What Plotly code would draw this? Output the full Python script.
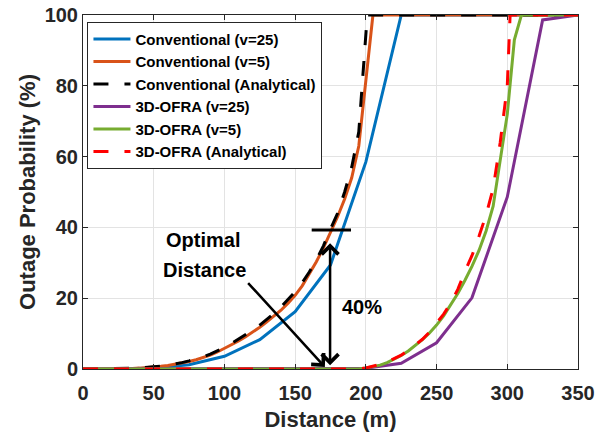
import plotly.graph_objects as go

# ---------------- data ----------------
d_step25 = [0, 25, 50, 75, 100, 125, 150, 175, 200, 225, 250, 275, 300, 325, 350]
conv_v25 = [0, 0, 0.3, 1.2, 3.6, 8.3, 16.2, 29.4, 58.5, 100, 100, 100, 100, 100, 100]
ofra_v25 = [0, 0, 0, 0, 0, 0, 0, 0, 0.2, 1.6, 7.4, 20.1, 48.6, 98.6, 100]

d_conv_v5 = [0, 20, 25, 30, 35, 40, 45, 50, 55, 60, 65, 70, 75, 80, 85, 90, 95, 100,
             105, 110, 115, 120, 125, 130, 135, 140, 145, 150, 155, 160, 165, 170,
             175, 180, 185, 190, 195, 200, 205, 350]
conv_v5 = [0, 0, 0.05, 0.1, 0.15, 0.25, 0.35, 0.5, 0.75, 1.0, 1.3, 1.65, 2.1, 2.6, 3.2,
           3.9, 4.8, 5.8, 6.8, 7.9, 9.1, 10.4, 11.8, 13.3, 14.9, 16.6, 18.6, 20.8, 23.5,
           26.8, 30.3, 34.2, 38.5, 43.0, 48.0, 54.0, 63.0, 82.0, 100, 100]

d_conv_an = [0, 20, 25, 30, 35, 40, 45, 50, 55, 60, 65, 70, 75, 80, 85, 90, 95, 100,
             105, 110, 115, 120, 125, 130, 135, 140, 145, 150, 155, 160, 165, 170,
             175, 180, 185, 190, 195, 200, 201, 350]
conv_an = [0, 0, 0.05, 0.1, 0.2, 0.3, 0.4, 0.55, 0.8, 1.1, 1.4, 1.8, 2.3, 2.8, 3.4,
           4.2, 5.1, 6.1, 7.2, 8.4, 9.7, 11.0, 12.4, 14.0, 15.7, 17.5, 19.5, 21.8, 24.4,
           27.4, 30.8, 34.8, 39.5, 44.0, 50.0, 57.0, 67.0, 94.0, 100, 100]

d_ofra_v5 = [0, 195, 200, 205, 210, 215, 220, 225, 230, 235, 240, 245, 250, 255, 260,
             265, 270, 275, 280, 285, 290, 295, 300, 305, 310, 350]
ofra_v5 = [0, 0, 0.3, 0.6, 1.1, 1.8, 2.8, 3.8, 5.1, 6.6, 8.3, 10.2, 12.4, 15.0, 18.0,
           21.3, 25.0, 29.0, 33.5, 39.0, 46.0, 58.5, 72.0, 93.0, 100, 100]

d_ofra_an = [0, 195, 200, 205, 210, 215, 220, 225, 230, 235, 240, 245, 250, 255, 260,
             265, 270, 275, 280, 285, 290, 295, 300, 302, 350]
ofra_an = [0, 0, 0.3, 0.7, 1.3, 2.0, 3.0, 3.9, 5.3, 6.9, 8.4, 10.4, 12.8, 15.5, 18.6,
           22.5, 27.5, 32.0, 37.5, 43.5, 51.0, 64.0, 80.0, 100, 100]

names = ["Conventional (v=25)", "Conventional (v=5)", "Conventional (Analytical)",
         "3D-OFRA (v=25)", "3D-OFRA (v=5)", "3D-OFRA (Analytical)"]
x_ticks = [0, 50, 100, 150, 200, 250, 300, 350]
y_ticks = [0, 20, 40, 60, 80, 100]

# annotation anchors (data units)
opt_arrow_tail = (115.8, 24.7)
opt_arrow_head = (171.0, 0.6)
dbl_arrow_x = 174.7
dbl_arrow_y = (0.65, 35.5)
bar_x = (161.7, 189.5)
bar_y = 39.3

# ---------------- figure ----------------
FONT = "Liberation Sans, Arial, sans-serif"
series = [
    (d_step25, conv_v25, "#0072BD", None),
    (d_conv_v5, conv_v5, "#D95319", None),
    (d_conv_an, conv_an, "#000000", "15px,16px"),
    (d_step25, ofra_v25, "#7E2F8E", None),
    (d_ofra_v5, ofra_v5, "#77AC30", None),
    (d_ofra_an, ofra_an, "#FF0000", "15px,16px"),
]

fig = go.Figure()
for (xs, ys, col, dash), nm in zip(series, names):
    fig.add_trace(go.Scatter(
        x=xs, y=ys, mode="lines", name=nm,
        line=dict(color=col, width=3, dash=dash or "solid"),
    ))

axis_common = dict(
    showgrid=True, gridcolor="#e3e3e3", gridwidth=1,
    showline=True, linecolor="#262626", linewidth=1, mirror="ticks",
    ticks="inside", ticklen=5, tickcolor="#262626",
    tickfont=dict(family=FONT, size=20, color="#262626", weight="bold"),
    zeroline=False, automargin=False, ticklabeloverflow="allow",
)

fig.update_layout(
    width=610, height=432,
    margin=dict(l=83, r=32, t=15, b=63, autoexpand=False),
    paper_bgcolor="white", plot_bgcolor="white",
    font=dict(family=FONT, color="#262626"),
    xaxis=dict(range=[0, 350], tickvals=x_ticks, ticklabelstandoff=6,
               title=dict(text="Distance (m)", standoff=8,
                          font=dict(family=FONT, size=22, color="#262626", weight="bold")),
               **axis_common),
    yaxis=dict(range=[0, 100], tickvals=y_ticks,
               title=dict(text="Outage Probability (%)", standoff=2,
                          font=dict(family=FONT, size=22, color="#262626", weight="bold")),
               **axis_common),
    legend=dict(x=0.009, y=0.981, xanchor="left", yanchor="top",
                bgcolor="white", bordercolor="#262626", borderwidth=1,
                font=dict(family=FONT, size=15, color="#000000", weight="bold"),
                tracegroupgap=0, itemwidth=37),
    showlegend=True,
)

ann_font = dict(family=FONT, size=20, color="#000000", weight="bold")
fig.add_annotation(x=84.5, y=36.4, text="Optimal", showarrow=False, font=ann_font)
fig.add_annotation(x=85.7, y=28.0, text="Distance", showarrow=False, font=ann_font)
fig.add_annotation(x=197, y=17.6, text="40%", showarrow=False, font=ann_font)

fig.add_annotation(x=opt_arrow_head[0], y=opt_arrow_head[1],
                   ax=opt_arrow_tail[0], ay=opt_arrow_tail[1],
                   axref="x", ayref="y", xref="x", yref="y", text="",
                   showarrow=True, arrowhead=4, arrowsize=1.3, arrowwidth=2.5,
                   arrowcolor="#000000")
fig.add_annotation(x=dbl_arrow_x, y=dbl_arrow_y[1],
                   ax=dbl_arrow_x, ay=dbl_arrow_y[0],
                   axref="x", ayref="y", xref="x", yref="y", text="",
                   showarrow=True, arrowhead=4, startarrowhead=4, arrowside="end+start",
                   arrowsize=1.3, startarrowsize=1.3, arrowwidth=2.5,
                   arrowcolor="#000000")
fig.add_shape(type="line", x0=bar_x[0], x1=bar_x[1], y0=bar_y, y1=bar_y,
              xref="x", yref="y", line=dict(color="#000000", width=3))

# remove the browser's default 8px body margin so the figure fills the window
fig.write_html("out.html", config={"displayModeBar": False},
               post_script="document.body.style.margin='0px';")
